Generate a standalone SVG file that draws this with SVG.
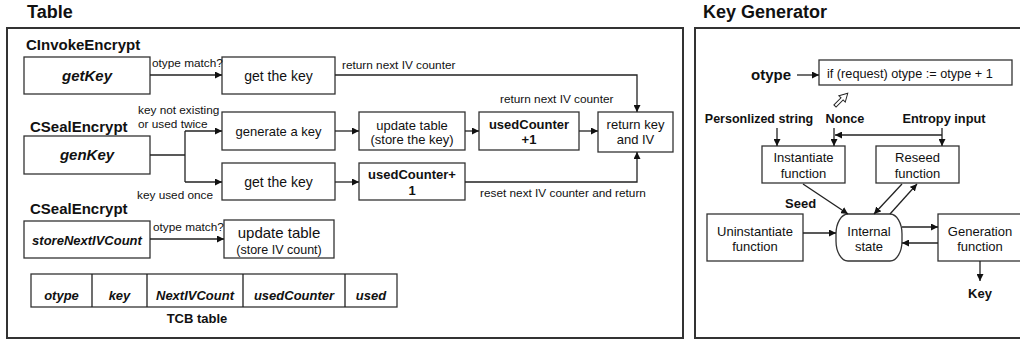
<svg xmlns="http://www.w3.org/2000/svg" width="1020" height="340" viewBox="0 0 1020 340">
  <style>
    text { font-family: "Liberation Sans", Arial, sans-serif; fill: #111; }
    .title { font-size: 18px; font-weight: bold; }
    .head { font-size: 15px; font-weight: bold; }
    .fn { font-size: 15px; font-weight: bold; font-style: italic; }
    .fn13 { font-size: 13px; font-weight: bold; font-style: italic; }
    .box { fill: #fff; stroke: #333; stroke-width: 1.3; }
    .panel { fill: #fff; stroke: #333; stroke-width: 2; }
    .t13 { font-size: 13px; }
    .t14 { font-size: 14px; }
    .b13 { font-size: 13px; font-weight: bold; }
    .lbl { font-size: 11.8px; }
    .c { text-anchor: middle; }
    .wire { fill: none; stroke: #222; stroke-width: 1.3; }
  </style>
  <defs>
    <marker id="arr" viewBox="0 0 8 8" refX="8" refY="4" markerWidth="7" markerHeight="7" markerUnits="userSpaceOnUse" orient="auto">
      <path d="M0,0 L8,4 L0,8 Z" fill="#111"/>
    </marker>
  </defs>

  <!-- panel titles and frames -->
  <text class="title" x="27" y="18">Table</text>
  <text class="title" x="703" y="18">Key Generator</text>
  <rect class="panel" x="7" y="28" width="676" height="310"/>
  <rect class="panel" x="695" y="28" width="330" height="310"/>

  <!-- Table panel -->
  <g id="sec-invoke"><text class="head" x="26" y="50">CInvokeEncrypt</text></g>
  <g id="sec-seal1"><text class="head" x="30" y="132">CSealEncrypt</text></g>
  <g id="sec-seal2"><text class="head" x="30" y="214">CSealEncrypt</text></g>

  <g id="getKey"><rect class="box" x="24" y="57" width="126" height="37"/><text class="fn c" x="87" y="81">getKey</text></g>
  <g id="getTheKey1"><rect class="box" x="222" y="57" width="113" height="37"/><text class="t14 c" x="278.5" y="80.5">get the key</text></g>
  <g id="genKey"><rect class="box" x="24" y="136" width="126" height="38"/><text class="fn c" x="87" y="160">genKey</text></g>
  <g id="generateKey"><rect class="box" x="222" y="112" width="113" height="38"/><text class="t13 c" x="278.5" y="135.5">generate a key</text></g>
  <g id="getTheKey2"><rect class="box" x="222" y="163" width="113" height="37"/><text class="t14 c" x="278.5" y="186.5">get the key</text></g>
  <g id="updateTable1"><rect class="box" x="359" y="112" width="106" height="38"/><text class="t13 c" x="412" y="129.5">update table</text><text class="t13 c" x="412" y="144">(store the key)</text></g>
  <g id="usedCounter1"><rect class="box" x="479" y="112" width="100" height="38"/><text class="b13 c" x="529" y="129">usedCounter</text><text class="b13 c" x="529" y="144">+1</text></g>
  <g id="returnKeyIV"><rect class="box" x="598" y="112" width="75" height="40"/><text class="t13 c" x="635.5" y="129">return key</text><text class="t13 c" x="635.5" y="144">and IV</text></g>
  <g id="usedCounter2"><rect class="box" x="359" y="163" width="106" height="37"/><text class="b13 c" x="412" y="179">usedCounter+</text><text class="b13 c" x="412" y="195">1</text></g>
  <g id="storeNextIVCount"><rect class="box" x="24" y="221" width="126" height="37"/><text class="fn13 c" x="87" y="244.5">storeNextIVCount</text></g>
  <g id="updateTable2"><rect class="box" x="224" y="220" width="110" height="38"/><text class="c" x="279" y="237.5" style="font-size:15px">update table</text><text class="c" x="279" y="254" style="font-size:12.5px">(store IV count)</text></g>

  <g id="tcbTable">
    <rect class="box" x="31" y="274" width="366" height="33"/>
    <path class="wire" d="M92,274 V307 M147,274 V307 M243,274 V307 M345,274 V307" stroke="#333"/>
    <text class="fn13 c" x="61.5" y="300">otype</text>
    <text class="fn13 c" x="119.5" y="300">key</text>
    <text class="fn13 c" x="195" y="300">NextIVCount</text>
    <text class="fn13 c" x="294" y="300">usedCounter</text>
    <text class="fn13 c" x="371" y="300">used</text>
    <text class="b13 c" x="197" y="323">TCB table</text>
  </g>

  <!-- Key Generator panel -->
  <g id="otype"><text class="c" x="771" y="80" style="font-size:15px;font-weight:bold">otype</text></g>
  <g id="ifRequest"><rect class="box" x="819" y="60" width="193" height="25"/><text x="827" y="78" style="font-size:12.7px">if (request) otype := otype + 1</text></g>
  <g id="personlized"><text class="c" x="759" y="122.5" style="font-size:12.5px;font-weight:bold">Personlized string</text></g>
  <g id="nonce"><text class="c" x="845" y="122.5" style="font-size:12.7px;font-weight:bold">Nonce</text></g>
  <g id="entropy"><text class="c" x="944" y="122.5" style="font-size:12.8px;font-weight:bold">Entropy input</text></g>
  <g id="instantiate"><rect class="box" x="762" y="146" width="83" height="37"/><text class="t13 c" x="803.5" y="161.5">Instantiate</text><text class="t13 c" x="803.5" y="177.5">function</text></g>
  <g id="reseed"><rect class="box" x="876" y="146" width="83" height="37"/><text class="t13 c" x="917.5" y="161.5">Reseed</text><text class="t13 c" x="917.5" y="177.5">function</text></g>
  <g id="uninstantiate"><rect class="box" x="707" y="214" width="96" height="47"/><text class="t13 c" x="755" y="235.5">Uninstantiate</text><text class="t13 c" x="755" y="250.5">function</text></g>
  <g id="internalState"><rect class="box" x="836" y="214" width="66" height="47" rx="12" ry="20"/><text class="t13 c" x="869" y="235.5">Internal</text><text class="t13 c" x="869" y="250.5">state</text></g>
  <g id="generation"><rect class="box" x="938" y="214" width="86" height="47"/><text class="t13 c" x="980" y="235.5">Generation</text><text class="t13 c" x="980" y="250.5">function</text></g>
  <g id="seed"><text class="b13" x="785" y="207.5">Seed</text></g>
  <g id="key"><text class="b13 c" x="980" y="297.5">Key</text></g>

  <!-- connectors -->
  <g id="connectors">
    <!-- Table flow -->
    <path class="wire" d="M150,75 H222" marker-end="url(#arr)"/>
    <path class="wire" d="M335,75 H637 V112" marker-end="url(#arr)"/>
    <path class="wire" d="M150,155 H185"/>
    <path class="wire" d="M185,131 V182"/>
    <path class="wire" d="M185,131 H222" marker-end="url(#arr)"/>
    <path class="wire" d="M185,182 H222" marker-end="url(#arr)"/>
    <path class="wire" d="M335,131 H359" marker-end="url(#arr)"/>
    <path class="wire" d="M465,131 H479" marker-end="url(#arr)"/>
    <path class="wire" d="M579,131 H598" marker-end="url(#arr)"/>
    <path class="wire" d="M335,182 H359" marker-end="url(#arr)"/>
    <path class="wire" d="M465,182 H637 V152" marker-end="url(#arr)"/>
    <path class="wire" d="M150,239 H224" marker-end="url(#arr)"/>

    <!-- Key Generator flow -->
    <path class="wire" d="M797,75 H819" marker-end="url(#arr)"/>
    <path d="M0,-1.5 H10 V-4.5 L18,0 L10,4.5 V1.5 H0 Z" fill="#fff" stroke="#222" stroke-width="1" transform="translate(835,106) rotate(-45)"/>
    <path class="wire" d="M777,128 V146" marker-end="url(#arr)"/>
    <path class="wire" d="M834,128 V146" marker-end="url(#arr)"/>
    <path class="wire" d="M942,128 V146" marker-end="url(#arr)"/>
    <path class="wire" d="M942,135 H835" marker-end="url(#arr)"/>
    <path class="wire" d="M803,184 L848,214" marker-end="url(#arr)"/>
    <path class="wire" d="M902,184 L874,214" marker-end="url(#arr)"/>
    <path class="wire" d="M890,214 L917,184" marker-end="url(#arr)"/>
    <path class="wire" d="M803,233 H836" marker-end="url(#arr)"/>
    <path class="wire" d="M902,227 H938" marker-end="url(#arr)"/>
    <path class="wire" d="M938,243 H902" marker-end="url(#arr)"/>
    <path class="wire" d="M980,261 V281" marker-end="url(#arr)"/>
  </g>

  <!-- connector labels -->
  <g id="labels">
    <text class="lbl" x="152" y="67">otype match?</text>
    <text class="lbl" x="342" y="69">return next IV counter</text>
    <text class="lbl" x="138" y="114">key not existing</text>
    <text class="lbl" x="138" y="128">or used twice</text>
    <text class="lbl" x="500" y="103">return next IV counter</text>
    <text class="lbl" x="137" y="199">key used once</text>
    <text class="lbl" x="480" y="197">reset next IV counter and return</text>
    <text class="lbl" x="153" y="231">otype match?</text>
  </g>
</svg>
